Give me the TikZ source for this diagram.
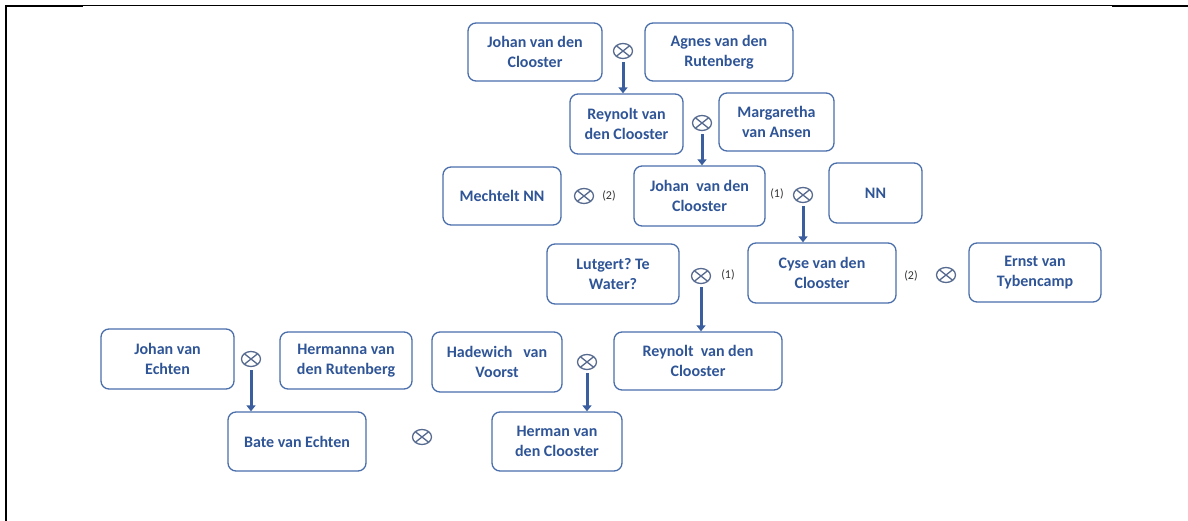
\documentclass[tikz,border=0pt]{standalone}
\usepackage{fontspec}
\setmainfont{Carlito}
\frenchspacing
\usetikzlibrary{arrows.meta,shapes.geometric}
\definecolor{txtblue}{HTML}{2F5597}
\definecolor{boxblue}{HTML}{4A6EAA}
\definecolor{arrblue}{HTML}{3A5E9E}
\definecolor{mgray}{HTML}{56698F}
\tikzset{
  person/.style={draw=boxblue, line width=1.3pt, rounded corners=8pt, align=center,
    text=txtblue, font=\bfseries\fontsize{16}{20}\selectfont, inner sep=0pt},
  marr/.style={ellipse, draw=mgray, line width=1.3pt, minimum width=19pt, minimum height=15pt, inner sep=0pt,
    path picture={\draw[mgray, line width=1.3pt] (path picture bounding box.north west) -- (path picture bounding box.south east)
      (path picture bounding box.north east) -- (path picture bounding box.south west);}},
  lbl/.style={text=black!80, font=\fontsize{12}{14}\selectfont, inner sep=0pt},
  desc/.style={draw=arrblue, line width=3pt, -{Triangle[width=9pt,length=6pt]}, shorten <=3pt},
}
\begin{document}
\begin{tikzpicture}[x=1pt,y=-1pt]
\useasboundingbox (0,0) rectangle (1188,521);
% frame
\draw[line width=2.2pt] (6,521) -- (6,6) -- (83,6);
\draw[line width=1pt] (83,5.5) -- (1112,5.5);
\draw[line width=2.2pt] (1112,6) -- (1188,6);

% persons
\node[person, minimum width=134pt, minimum height=58pt] (jc1) at (535,52) {Johan van den\\Clooster};
\node[person, minimum width=148pt, minimum height=58pt] (agnes) at (719,52) {Agnes van den\\Rutenberg};
\node[person, minimum width=113pt, minimum height=60pt] (rey1) at (626.5,124) {Reynolt van\\den Clooster};
\node[person, minimum width=115pt, minimum height=58pt] (marg) at (776.5,122) {Margaretha\\van Ansen};
\node[person, minimum width=118pt, minimum height=58pt] (mech) at (502,196) {Mechtelt NN};
\node[person, minimum width=131pt, minimum height=60pt] (jc2) at (699.5,196) {Johan\ \ van den\\Clooster};
\node[person, minimum width=93pt, minimum height=60pt] (nn) at (875.5,193) {NN};
\node[person, minimum width=132pt, minimum height=60pt] (lut) at (613,274) {Lutgert? Te\\Water?};
\node[person, minimum width=148pt, minimum height=60pt] (cyse) at (822,273) {Cyse van den\\Clooster};
\node[person, minimum width=132pt, minimum height=59pt] (ernst) at (1035,272.5) {Ernst van\\Tybencamp};
\node[person, minimum width=133pt, minimum height=60pt] (jve) at (167.5,359) {Johan van\\Echten};
\node[person, minimum width=132pt, minimum height=57pt] (herm) at (346,360.5) {Hermanna van\\den Rutenberg};
\node[person, minimum width=138pt, minimum height=59pt] (bate) at (297,441.5) {Bate van Echten};
\node[person, minimum width=130pt, minimum height=60pt] (hade) at (497,362) {Hadewich\ \ \ van\\Voorst};
\node[person, minimum width=168pt, minimum height=58pt] (rey2) at (698,361) {Reynolt\ \ van den\\Clooster};
\node[person, minimum width=130pt, minimum height=59pt] (herman) at (557,441.5) {Herman van\\den Clooster};

% marriage symbols
\node[marr] (m1) at (623,51) {};
\node[marr] (m2) at (702,123) {};
\node[marr] (m3) at (584,196) {};
\node[marr] (m4) at (803,195) {};
\node[marr] (m5) at (701,276) {};
\node[marr] (m6) at (946,275) {};
\node[marr] (m7) at (251,359) {};
\node[marr] (m8) at (422,437) {};
\node[marr] (m9) at (587,362) {};

% marriage order labels
\node[lbl] (l1) at (609,196) {(2)};
\node[lbl] (l2) at (777,194) {(1)};
\node[lbl] (l3) at (728,275) {(1)};
\node[lbl] (l4) at (911,276) {(2)};

% descent arrows
\draw[desc] (m1.south) -- (m1.south |- rey1.north);
\draw[desc] (m2.south) -- (m2.south |- jc2.north);
\draw[desc] (m4.south) -- (m4.south |- cyse.north);
\draw[desc] (m5.south) -- (m5.south |- rey2.north);
\draw[desc] (m7.south) -- (m7.south |- bate.north);
\draw[desc] (m9.south) -- (m9.south |- herman.north);
\end{tikzpicture}
\end{document}
